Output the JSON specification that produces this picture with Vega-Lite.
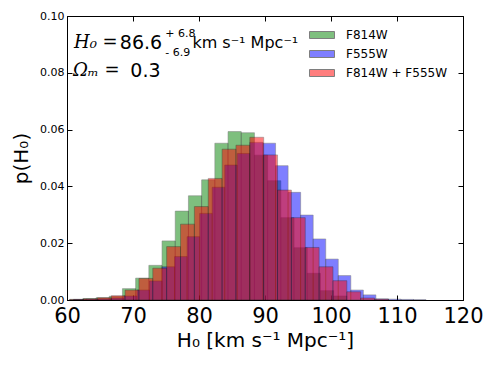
{
  "$schema": "https://vega.github.io/schema/vega-lite/v6.json",
  "autosize": {"type": "none"},
  "width": 396,
  "height": 284,
  "padding": {"left": 67, "top": 16, "right": 28, "bottom": 68},
  "background": "white",
  "config": {
    "view": {"stroke": "black", "strokeWidth": 1},
    "font": "DejaVu Sans",
    "axis": {"domainColor": "black", "tickColor": "black", "labelColor": "black", "titleColor": "black", "grid": false, "labelFont": "DejaVu Sans", "titleFont": "DejaVu Sans", "titleFontWeight": "normal"}
  },
  "datasets": {
    "hist": [
      {"s": "F814W", "a": 60.4, "b": 62.4, "d": 0.0002},
      {"s": "F814W", "a": 62.4, "b": 64.4, "d": 0.0005},
      {"s": "F814W", "a": 64.4, "b": 66.4, "d": 0.0008},
      {"s": "F814W", "a": 66.4, "b": 68.4, "d": 0.0013},
      {"s": "F814W", "a": 68.4, "b": 70.4, "d": 0.0040},
      {"s": "F814W", "a": 70.4, "b": 72.4, "d": 0.0077},
      {"s": "F814W", "a": 72.4, "b": 74.4, "d": 0.0122},
      {"s": "F814W", "a": 74.4, "b": 76.4, "d": 0.0208},
      {"s": "F814W", "a": 76.4, "b": 78.4, "d": 0.0313},
      {"s": "F814W", "a": 78.4, "b": 80.4, "d": 0.0367},
      {"s": "F814W", "a": 80.4, "b": 82.4, "d": 0.0423},
      {"s": "F814W", "a": 82.4, "b": 84.4, "d": 0.0552},
      {"s": "F814W", "a": 84.4, "b": 86.4, "d": 0.0593},
      {"s": "F814W", "a": 86.4, "b": 88.4, "d": 0.0589},
      {"s": "F814W", "a": 88.4, "b": 90.4, "d": 0.0510},
      {"s": "F814W", "a": 90.4, "b": 92.4, "d": 0.0420},
      {"s": "F814W", "a": 92.4, "b": 94.4, "d": 0.0290},
      {"s": "F814W", "a": 94.4, "b": 96.4, "d": 0.0184},
      {"s": "F814W", "a": 96.4, "b": 98.4, "d": 0.0094},
      {"s": "F814W", "a": 98.4, "b": 100.4, "d": 0.0033},
      {"s": "F814W", "a": 100.4, "b": 102.4, "d": 0.0014},
      {"s": "F555W", "a": 61.0, "b": 62.9, "d": 0.0002},
      {"s": "F555W", "a": 62.9, "b": 64.8, "d": 0.0003},
      {"s": "F555W", "a": 64.8, "b": 66.7, "d": 0.0004},
      {"s": "F555W", "a": 66.7, "b": 68.6, "d": 0.0007},
      {"s": "F555W", "a": 68.6, "b": 70.6, "d": 0.0014},
      {"s": "F555W", "a": 70.6, "b": 72.5, "d": 0.0035},
      {"s": "F555W", "a": 72.5, "b": 74.4, "d": 0.0067},
      {"s": "F555W", "a": 74.4, "b": 76.3, "d": 0.0117},
      {"s": "F555W", "a": 76.3, "b": 78.2, "d": 0.0153},
      {"s": "F555W", "a": 78.2, "b": 80.1, "d": 0.0223},
      {"s": "F555W", "a": 80.1, "b": 82.0, "d": 0.0305},
      {"s": "F555W", "a": 82.0, "b": 83.9, "d": 0.0397},
      {"s": "F555W", "a": 83.9, "b": 85.8, "d": 0.0475},
      {"s": "F555W", "a": 85.8, "b": 87.7, "d": 0.0516},
      {"s": "F555W", "a": 87.7, "b": 89.7, "d": 0.0555},
      {"s": "F555W", "a": 89.7, "b": 91.6, "d": 0.0552},
      {"s": "F555W", "a": 91.6, "b": 93.5, "d": 0.0473},
      {"s": "F555W", "a": 93.5, "b": 95.4, "d": 0.0379},
      {"s": "F555W", "a": 95.4, "b": 97.3, "d": 0.0299},
      {"s": "F555W", "a": 97.3, "b": 99.2, "d": 0.0215},
      {"s": "F555W", "a": 99.2, "b": 101.1, "d": 0.0144},
      {"s": "F555W", "a": 101.1, "b": 103.0, "d": 0.0086},
      {"s": "F555W", "a": 103.0, "b": 104.9, "d": 0.0035},
      {"s": "F555W", "a": 104.9, "b": 106.8, "d": 0.0018},
      {"s": "F555W", "a": 106.8, "b": 108.7, "d": 0.0004},
      {"s": "F555W", "a": 108.7, "b": 110.6, "d": 0.0003},
      {"s": "F555W", "a": 110.6, "b": 112.5, "d": 0.0002},
      {"s": "F555W", "a": 112.5, "b": 114.4, "d": 0.0001},
      {"s": "F814W + F555W", "a": 60.4, "b": 62.5, "d": 0.0002},
      {"s": "F814W + F555W", "a": 62.5, "b": 64.6, "d": 0.0004},
      {"s": "F814W + F555W", "a": 64.6, "b": 66.7, "d": 0.0008},
      {"s": "F814W + F555W", "a": 66.7, "b": 68.8, "d": 0.0015},
      {"s": "F814W + F555W", "a": 68.8, "b": 70.9, "d": 0.0035},
      {"s": "F814W + F555W", "a": 70.9, "b": 73.0, "d": 0.0076},
      {"s": "F814W + F555W", "a": 73.0, "b": 75.1, "d": 0.0112},
      {"s": "F814W + F555W", "a": 75.1, "b": 77.2, "d": 0.0188},
      {"s": "F814W + F555W", "a": 77.2, "b": 79.3, "d": 0.0267},
      {"s": "F814W + F555W", "a": 79.3, "b": 81.4, "d": 0.0329},
      {"s": "F814W + F555W", "a": 81.4, "b": 83.5, "d": 0.0428},
      {"s": "F814W + F555W", "a": 83.5, "b": 85.6, "d": 0.0531},
      {"s": "F814W + F555W", "a": 85.6, "b": 87.7, "d": 0.0545},
      {"s": "F814W + F555W", "a": 87.7, "b": 89.8, "d": 0.0573},
      {"s": "F814W + F555W", "a": 89.8, "b": 91.9, "d": 0.0511},
      {"s": "F814W + F555W", "a": 91.9, "b": 94.0, "d": 0.0387},
      {"s": "F814W + F555W", "a": 94.0, "b": 96.1, "d": 0.0290},
      {"s": "F814W + F555W", "a": 96.1, "b": 98.2, "d": 0.0185},
      {"s": "F814W + F555W", "a": 98.2, "b": 100.3, "d": 0.0117},
      {"s": "F814W + F555W", "a": 100.3, "b": 102.4, "d": 0.0068},
      {"s": "F814W + F555W", "a": 102.4, "b": 104.5, "d": 0.0029},
      {"s": "F814W + F555W", "a": 104.5, "b": 106.6, "d": 0.0007},
      {"s": "F814W + F555W", "a": 106.6, "b": 108.7, "d": 0.0003}
    ],
    "serifText": [
      {"t": "H₀ =", "x": 61.05, "y": 0.0905},
      {"t": "Ωₘ =", "x": 60.9, "y": 0.0808}
    ],
    "bigText": [
      {"t": "86.6", "x": 68.0, "y": 0.0905},
      {"t": "0.3", "x": 69.6, "y": 0.0808}
    ],
    "unitText": [
      {"t": "km s⁻¹ Mpc⁻¹", "x": 79.0, "y": 0.0905}
    ],
    "smallText": [
      {"t": "+ 6.8", "x": 74.9, "y": 0.0938},
      {"t": "- 6.9", "x": 74.9, "y": 0.0871}
    ]
  },
  "layer": [
    {
      "layer": [
        {
          "data": {"name": "hist"},
          "mark": {"type": "bar", "opacity": 0.5, "stroke": "black", "strokeWidth": 1, "strokeOpacity": 0.5},
          "encoding": {
            "x": {"field": "a", "type": "quantitative", "scale": {"domain": [60, 120], "nice": false, "zero": false},
                  "axis": {"values": [60, 70, 80, 90, 100, 110, 120], "labelFontSize": 21, "tickSize": -5, "labelPadding": 10, "title": "H₀ [km s⁻¹ Mpc⁻¹]", "titleFontSize": 20, "titlePadding": 4, "labelFlush": false}},
            "x2": {"field": "b"},
            "y": {"field": "d", "type": "quantitative", "scale": {"domain": [0, 0.1], "nice": false},
                  "axis": {"values": [0, 0.02, 0.04, 0.06, 0.08, 0.1], "format": ".2f", "labelFontSize": 11, "tickSize": -5, "labelPadding": 8, "title": "p(H₀)", "titleFontSize": 20, "titlePadding": 8}},
            "y2": {"datum": 0},
            "color": {"field": "s", "type": "nominal",
                      "scale": {"domain": ["F814W", "F555W", "F814W + F555W"], "range": ["#008000", "#0000ff", "#ff0000"]},
                      "legend": {"title": null, "orient": "none", "legendX": 249, "legendY": 13, "padding": 0,
                                 "symbolType": "M-2.5,-0.7H2.5V0.7H-2.5Z", "symbolSize": 100, "symbolOpacity": 0.5,
                                 "symbolStrokeColor": "black", "symbolStrokeWidth": 1, "labelFontSize": 12, "labelOffset": 18,
                                 "rowPadding": 7, "labelColor": "black"}}
          }
        },
        {
          "data": {"name": "serifText"},
          "mark": {"type": "text", "align": "left", "baseline": "middle", "font": "DejaVu Serif", "fontStyle": "italic", "fontSize": 18, "color": "black"},
          "encoding": {"x": {"field": "x", "type": "quantitative"}, "y": {"field": "y", "type": "quantitative"}, "text": {"field": "t"}}
        },
        {
          "data": {"name": "bigText"},
          "mark": {"type": "text", "align": "left", "baseline": "middle", "font": "DejaVu Sans", "fontSize": 19, "color": "black"},
          "encoding": {"x": {"field": "x", "type": "quantitative"}, "y": {"field": "y", "type": "quantitative"}, "text": {"field": "t"}}
        },
        {
          "data": {"name": "unitText"},
          "mark": {"type": "text", "align": "left", "baseline": "middle", "font": "DejaVu Sans", "fontSize": 16, "color": "black"},
          "encoding": {"x": {"field": "x", "type": "quantitative"}, "y": {"field": "y", "type": "quantitative"}, "text": {"field": "t"}}
        },
        {
          "data": {"name": "smallText"},
          "mark": {"type": "text", "align": "left", "baseline": "middle", "font": "DejaVu Sans", "fontSize": 11, "color": "black"},
          "encoding": {"x": {"field": "x", "type": "quantitative"}, "y": {"field": "y", "type": "quantitative"}, "text": {"field": "t"}}
        }
      ]
    },
    {
      "data": {"name": "hist"},
      "mark": {"type": "point", "opacity": 0},
      "encoding": {
        "x": {"field": "a", "type": "quantitative",
              "axis": {"orient": "top", "values": [60, 70, 80, 90, 100, 110, 120], "labels": false, "title": null, "domain": false, "tickSize": -5}},
        "y": {"field": "d", "type": "quantitative",
              "axis": {"orient": "right", "values": [0, 0.02, 0.04, 0.06, 0.08, 0.1], "labels": false, "title": null, "domain": false, "tickSize": -5}}
      }
    }
  ],
  "resolve": {"axis": {"x": "independent", "y": "independent"}}
}
